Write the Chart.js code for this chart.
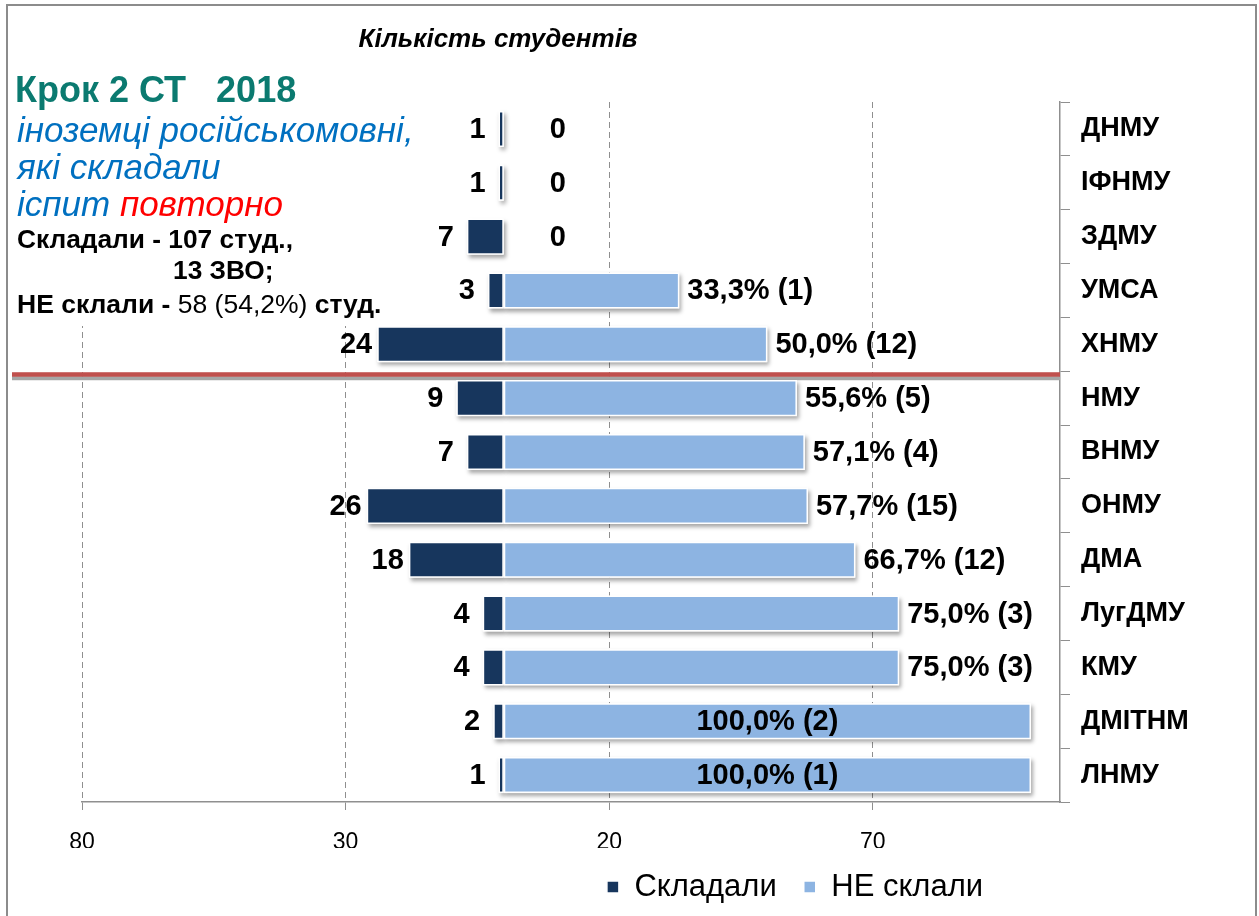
<!DOCTYPE html>
<html>
<head>
<meta charset="utf-8">
<script src="https://cdn.jsdelivr.net/npm/chart.js@4/dist/chart.umd.min.js"></script>
<style>
html,body{margin:0;padding:0;background:#fff;}
#wrap{width:1259px;height:916px;position:relative;overflow:hidden;}
canvas{display:block;}
</style>
</head>
<body>
<div id="wrap"><canvas id="c" width="1259" height="916"></canvas></div>
<script>
// ---- data ----
const categories = ['ДНМУ','ІФНМУ','ЗДМУ','УМСА','ХНМУ','НМУ','ВНМУ','ОНМУ','ДМА','ЛугДМУ','КМУ','ДМІТНМ','ЛНМУ'];
const tookExam = [1,1,7,3,24,9,7,26,18,4,4,2,1];
const failedCount = [0,0,0,1,12,5,4,15,12,3,3,2,1];
const failedPct = [0,0,0,33.3,50.0,55.6,57.1,57.7,66.7,75.0,75.0,100.0,100.0];
const xTickValues = [-80,-30,20,70];
const seriesNames = ['Складали','НЕ склали'];
const titleText = 'Кількість студентів';
const headingLine = 'Крок 2 СТ   2018';
const blueLines = ['іноземці російськомовні,','які складали','іспит '];
const redWord = 'повторно';
const summary1 = [['bold','Складали - 107 студ.,']];
const summary2 = [['bold','13 ЗВО;']];
const summary3 = [['bold','НЕ склали - '],['normal','58 (54,2%)'],['bold',' студ.']];

const FONT = '"Liberation Sans", Arial, sans-serif';
Chart.defaults.font.family = FONT;
Chart.defaults.color = '#000';

const DARK = '#17365D', LIGHT = '#8DB4E2';

const decor = {
  id: 'decor',
  afterLayout(chart) {
    const t = chart.titleBlock;
    if (t) { const w = t.right - t.left; t.left = 498 - w/2; t.right = t.left + w; }
    const L = chart.legend;
    if (L) {
      const w = L.right - L.left, h = L.bottom - L.top;
      L.left = 795 - w/2; L.right = L.left + w;
      const pad = L.options.labels.padding, fs = L.options.labels.font.size;
      L.top = 887 - pad - fs/2; L.bottom = L.top + h;
    }
  },
  beforeDatasetsDraw(chart) {
    const ctx = chart.ctx;
    const ys = chart.scales.y, area = chart.chartArea;
    // separator line between ХНМУ and НМУ
    const yb = (ys.getPixelForValue(4) + ys.getPixelForValue(5)) / 2;
    ctx.save();
    ctx.fillStyle = '#A6A6A6';
    ctx.fillRect(12, yb + 5, area.right - 12, 4);
    ctx.fillStyle = '#C0504D';
    ctx.fillRect(12, yb + 1, area.right - 12, 4.5);
    ctx.restore();
    // bar shadows
    ctx.save();
    ctx.shadowColor = 'rgba(0,0,0,0.35)';
    ctx.shadowBlur = 4; ctx.shadowOffsetX = 2; ctx.shadowOffsetY = 3;
    ctx.fillStyle = '#fff';
    [0,1].forEach(di => {
      chart.getDatasetMeta(di).data.forEach(bar => {
        const p = bar.getProps(['x','y','base','height'], true);
        const w = Math.abs(p.x - p.base);
        if (w < 0.5) return;
        ctx.fillRect(Math.min(p.x, p.base), p.y - p.height/2, w, p.height);
      });
    });
    ctx.restore();
  },
  afterDatasetsDraw(chart) {
    const ctx = chart.ctx, area = chart.chartArea;
    const zero = chart.scales.x.getPixelForValue(0);
    ctx.save();
    ctx.font = 'bold 29px ' + FONT;
    ctx.fillStyle = '#000';
    ctx.textBaseline = 'middle';
    chart.getDatasetMeta(0).data.forEach((bar, i) => {
      const p = bar.getProps(['x','y'], true);
      const s = String(tookExam[i]);
      ctx.textAlign = 'right';
      ctx.fillText(s, p.x - (s.length > 1 ? 5 : 13), p.y + 1);
    });
    chart.getDatasetMeta(1).data.forEach((bar, i) => {
      const p = bar.getProps(['x','y','base'], true);
      if (failedCount[i] === 0) {
        ctx.textAlign = 'left';
        ctx.fillText('0', zero + 46, p.y + 1);
        return;
      }
      const txt = failedPct[i].toFixed(1).replace('.', ',') + '% (' + failedCount[i] + ')';
      const w = ctx.measureText(txt).width;
      if (p.x + 9 + w > area.right) {
        ctx.textAlign = 'center';
        ctx.fillText(txt, (p.x + p.base) / 2, p.y + 1);
      } else {
        ctx.textAlign = 'left';
        ctx.fillText(txt, p.x + 8, p.y + 1);
      }
    });
    ctx.restore();
  },
  afterDraw(chart) {
    const ctx = chart.ctx;
    ctx.save();
    ctx.fillStyle = '#fff';
    ctx.fillRect(10, 58, 400, 268);
    ctx.textAlign = 'left';
    ctx.textBaseline = 'alphabetic';
    ctx.font = 'bold 36px ' + FONT;
    ctx.fillStyle = '#0B7A70';
    ctx.fillText(headingLine, 15, 102);
    ctx.font = 'italic 35px ' + FONT;
    ctx.fillStyle = '#0070C0';
    ctx.fillText(blueLines[0], 17, 142);
    ctx.fillText(blueLines[1], 17, 179);
    ctx.fillText(blueLines[2], 17, 216);
    const wi = ctx.measureText(blueLines[2]).width;
    ctx.fillStyle = '#FF0000';
    ctx.fillText(redWord, 17 + wi, 216);
    const runs = (list, x, y, size) => {
      ctx.fillStyle = '#000';
      list.forEach(([wt, s]) => {
        ctx.font = wt + ' ' + size + 'px ' + FONT;
        ctx.fillText(s, x, y);
        x += ctx.measureText(s).width;
      });
    };
    runs(summary1, 17, 248, 26.3);
    runs(summary2, 173, 279, 26.3);
    runs(summary3, 17, 313, 26.5);
    // outer frame
    ctx.strokeStyle = '#8C8C8C';
    ctx.lineWidth = 2;
    ctx.strokeRect(7, 5, 1249, 930);
    ctx.restore();
  }
};

new Chart(document.getElementById('c'), {
  type: 'bar',
  data: {
    labels: categories,
    datasets: [
      { label: seriesNames[0], data: tookExam.map(v => -v), backgroundColor: DARK,
        borderColor: '#FFFFFF', borderWidth: 1.5, borderSkipped: false },
      { label: seriesNames[1], data: failedPct, backgroundColor: LIGHT,
        borderColor: '#FFFFFF', borderWidth: 1.5, borderSkipped: false }
    ]
  },
  options: {
    indexAxis: 'y',
    responsive: false,
    animation: false,
    devicePixelRatio: 1,
    layout: { padding: { left: 82, right: 9, top: 8, bottom: 0 } },
    datasets: { bar: { categoryPercentage: 1, barPercentage: 0.67 } },
    scales: {
      x: {
        type: 'linear', stacked: true, min: -80, max: 105.5, position: 'bottom',
        afterBuildTicks: s => { s.ticks = xTickValues.map(v => ({ value: v })); },
        afterFit: s => { s.height = 916 - 802 - (s.chart.legend ? s.chart.legend.height : 0); },
        ticks: { callback: v => String(Math.abs(v)), font: { size: 23 }, color: '#000',
                 padding: 19, maxRotation: 0, autoSkip: false },
        grid: { color: '#8f8f8f', lineWidth: 1, tickLength: 8, tickColor: '#8f8f8f', tickBorderDash: [] },
        border: { display: true, color: '#8f8f8f', width: 1.5, dash: [6, 4] }
      },
      y: {
        type: 'category', stacked: true, position: 'right', offset: true,
        afterFit: s => { s.width = 190; },
        ticks: { font: { size: 27, weight: 'bold' }, color: '#000', padding: 11, autoSkip: false },
        grid: { drawOnChartArea: false, color: '#8f8f8f', tickLength: 10, offset: true },
        border: { display: true, color: '#8f8f8f', width: 1.5 }
      }
    },
    plugins: {
      title: { display: true, text: titleText, color: '#000',
               font: { size: 26, weight: 'bold', style: 'italic' },
               padding: { top: 16.4, bottom: 46.4 } },
      legend: { display: true, position: 'bottom',
                labels: { boxWidth: 12, boxHeight: 12, padding: 27, color: '#000', font: { size: 31 } } },
      tooltip: { enabled: false }
    }
  },
  plugins: [decor]
});
</script>
</body>
</html>
